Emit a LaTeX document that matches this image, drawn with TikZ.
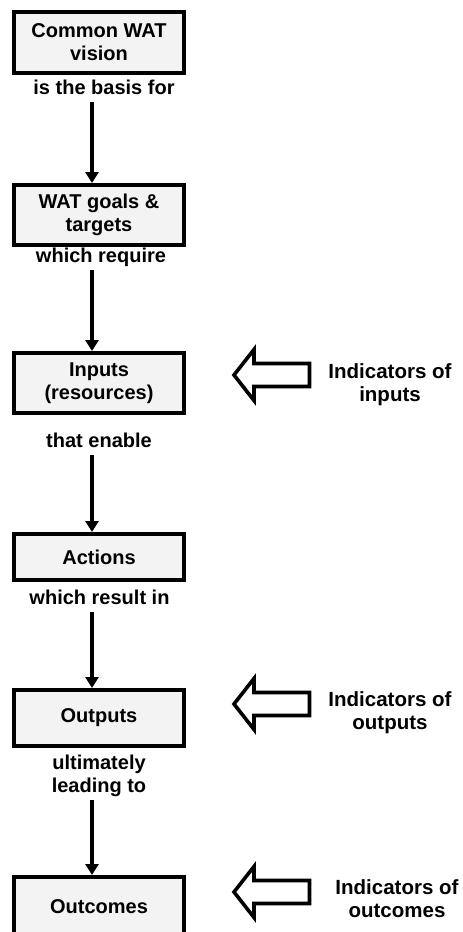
\documentclass[tikz,border=0pt]{standalone}
\usepackage{fontspec}
\setmainfont{Liberation Sans}
\usetikzlibrary{arrows.meta}
\definecolor{boxgray}{HTML}{F3F3F3}
\begin{document}
\begin{tikzpicture}[x=1pt,y=-1pt,
  box/.style={draw, line width=4pt, fill=boxgray, minimum width=170pt,
    align=center, inner sep=0pt, font=\bfseries\fontsize{20}{23}\selectfont},
  lab/.style={align=center, inner sep=0pt, text depth=7pt, anchor=south,
    font=\bfseries\fontsize{20}{23}\selectfont},
  ind/.style={align=center, inner sep=0pt, font=\bfseries\fontsize{20.5}{23}\selectfont},
  flow/.style={-{Triangle[length=11pt,width=13pt]}, line width=3.2pt},
  hollow/.style={draw, line width=3.6pt, fill=white, miter limit=20},
  hollowarrow/.pic={\draw[hollow] (0,0) -- (20,-25.5) -- (20,-11.5) -- (75.5,-11.5)
    -- (75.5,11.5) -- (20,11.5) -- (20,25.5) -- cycle;}]
\useasboundingbox (0,0) rectangle (463,932);
\clip (0,0) rectangle (463,932);
\coordinate (ax) at (92,0);
% boxes
\node[box, minimum height=61pt] (b1) at (99,42.5) {Common WAT\\vision};
\node[box, minimum height=60pt] (b2) at (99,215) {WAT goals \&\\targets};
\node[box, minimum height=60pt] (b3) at (99,383) {Inputs\\(resources)};
\node[box, minimum height=46pt] (b4) at (99,557) {Actions};
\node[box, minimum height=56pt] (b5) at (99,718) {Outputs};
\node[box, minimum height=60pt] (b6) at (99,907) {Outcomes};
% labels
\node[lab] (l1) at (104,102) {is the basis for};
\node[lab] (l2) at (101,269.5) {which require};
\node[lab] (l3) at (99,455) {that enable};
\node[lab] (l4) at (99.5,612) {which result in};
\node[lab] (l5) at (99,800) {ultimately\\leading to};
% connectors
\draw[flow] (l1.south -| ax) -- (b2.north -| ax);
\draw[flow] (l2.south -| ax) -- (b3.north -| ax);
\draw[flow] (l3.south -| ax) -- (b4.north -| ax);
\draw[flow] (l4.south -| ax) -- (b5.north -| ax);
\draw[flow] (l5.south -| ax) -- (b6.north -| ax);
% indicators
\coordinate (t1) at (234,375);
\coordinate (t2) at (234,704);
\coordinate (t3) at (234,892);
\pic at (t1) {hollowarrow};
\pic at (t2) {hollowarrow};
\pic at (t3) {hollowarrow};
\node[ind] (i1) at (390,385) {Indicators of\\inputs};
\node[ind] (i2) at (390,713) {Indicators of\\outputs};
\node[ind] (i3) at (397,899) {Indicators of\\outcomes};
\end{tikzpicture}
\end{document}
